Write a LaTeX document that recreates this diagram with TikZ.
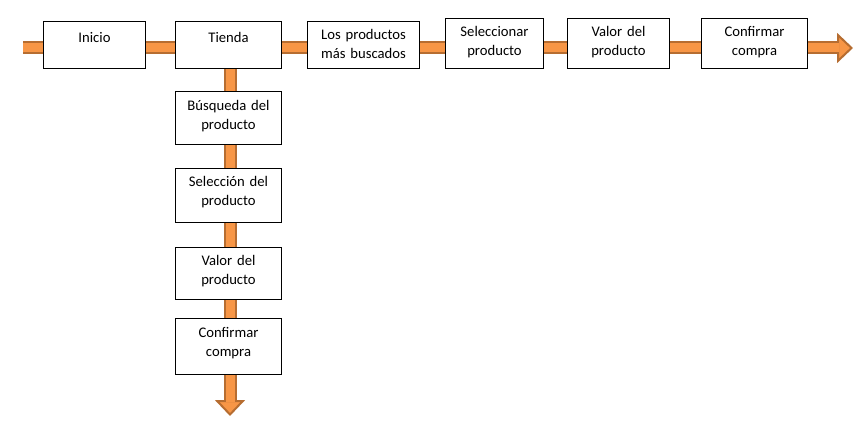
\documentclass[tikz,border=0pt]{standalone}
\usepackage{fontspec}
\setmainfont{Carlito}
\usetikzlibrary{arrows.meta,backgrounds}
\definecolor{naranja}{HTML}{F79646}
\definecolor{borde}{HTML}{B66D31}
\tikzset{
  caja/.style={draw,line width=0.75pt,fill=white,anchor=north west,inner sep=0pt,
    align=center,text width=79.5pt,text height=13.5pt,text depth=24pt,
    font=\fontsize{11pt}{14.6pt}\selectfont},
  flecha/.style={line width=9.75pt,draw=borde,
    -{Triangle[length=12pt,width=22.5pt,line width=1.5pt,fill=naranja]}},
  nucleo/.style={line width=6.75pt,draw=naranja,shorten >=10.5pt}
}
\begin{document}
\begin{tikzpicture}[x=0.75pt,y=-0.75pt]
  \useasboundingbox (0,0) rectangle (868,431);
  % fila de arriba
  \node[caja,text width=76.5pt,text height=15.75pt,text depth=19.5pt] (inicio) at (43,21) {Inicio};
  \node[caja,text height=15.75pt,text depth=19.5pt] (tienda) at (175,21) {Tienda};
  \node[caja,text width=84pt,text depth=21.75pt] (buscados) at (307,21) {Los productos\\más buscados};
  \node[caja,text width=73.5pt] (seleccionar) at (445,18) {Seleccionar\\producto};
  \node[caja,text width=76.5pt] (valor) at (567,18) {Valor del\\producto};
  \node[caja] (confirmar) at (701,18) {Confirmar\\compra};
  % columna de la tienda
  \node[caja,text height=14.25pt,text depth=25.5pt] (busqueda) at (175,91) {Búsqueda del\\producto};
  \node[caja,text depth=27pt] (seleccion) at (175,168) {Selección del\\producto};
  \node[caja,text depth=25.5pt] (valorb) at (175,247) {Valor del\\producto};
  \node[caja,text height=14.25pt,text depth=27.75pt] (confirmarb) at (175,318) {Confirmar\\compra};
  \coordinate (ini) at (23,48);
  \coordinate (fin) at (853,48);
  \coordinate (fondo) at (230,416);
  \begin{pgfonlayer}{background}
    \draw[flecha] (ini) -- (fin);
    \draw[nucleo] (ini) -- (fin);
    \draw[flecha] (tienda.south -| fondo) -- (fondo);
    \draw[nucleo] (tienda.south -| fondo) -- (fondo);
  \end{pgfonlayer}
\end{tikzpicture}
\end{document}
